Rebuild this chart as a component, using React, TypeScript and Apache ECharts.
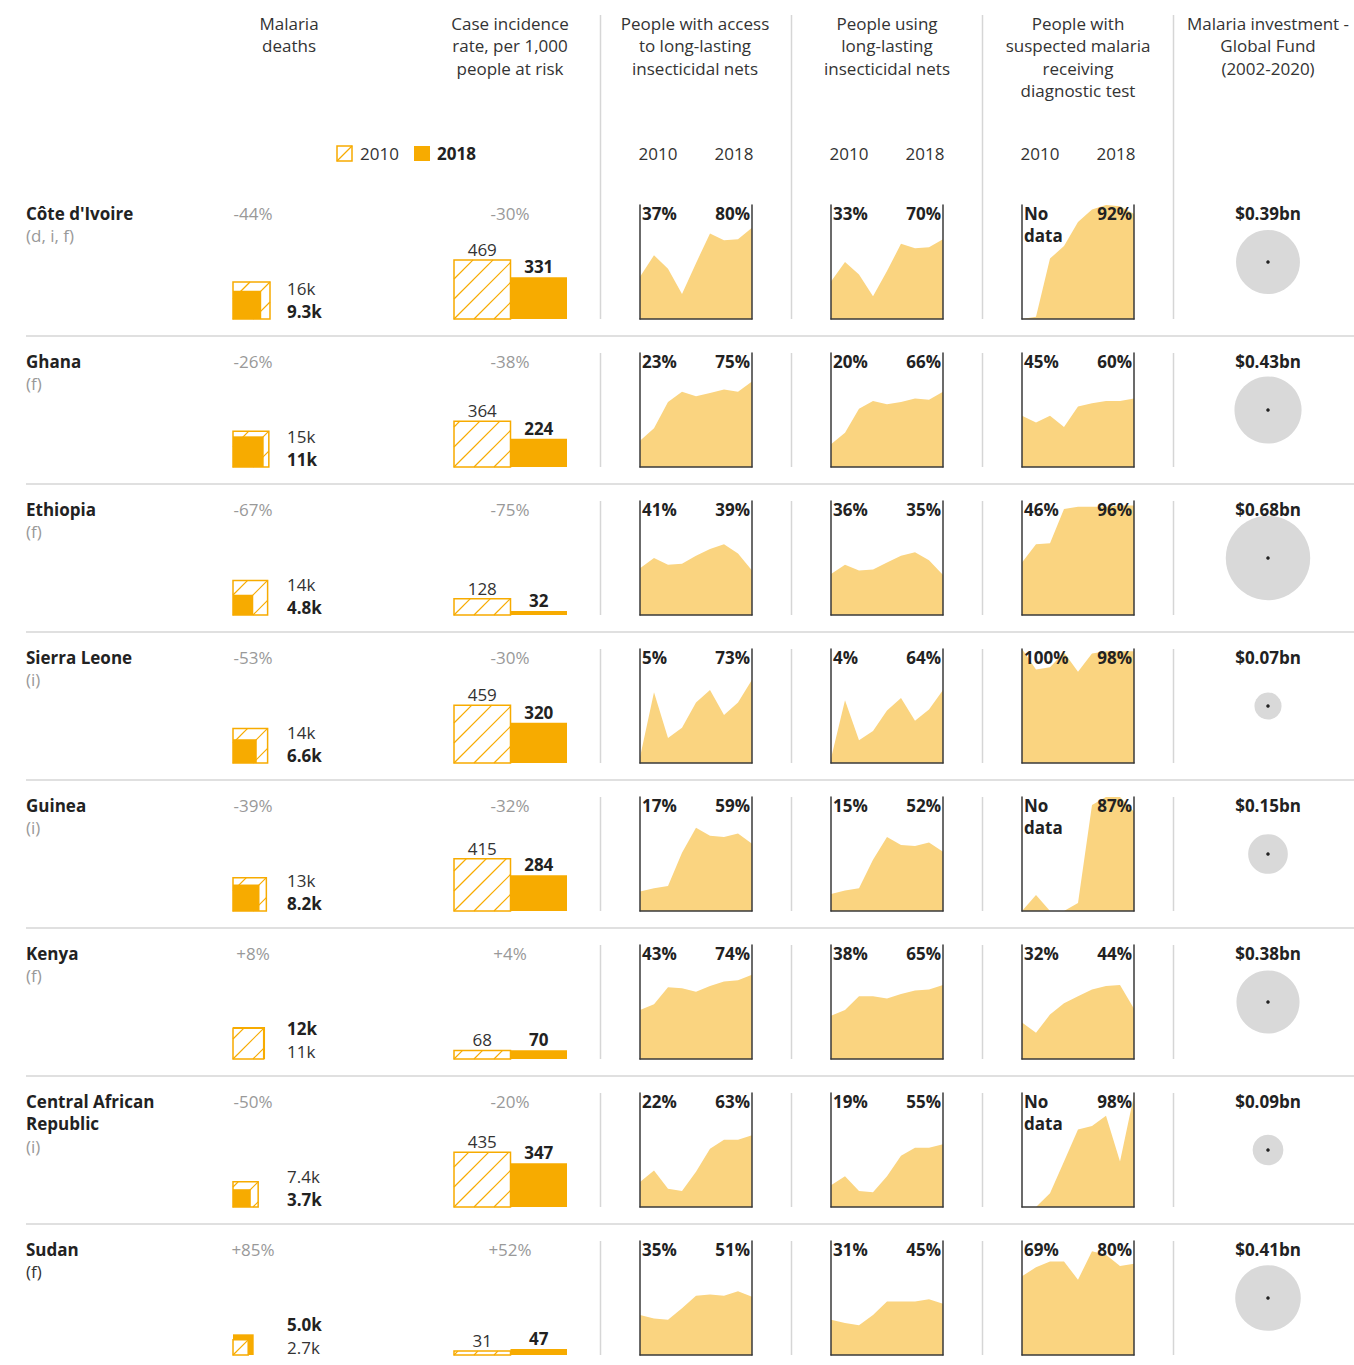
import React, { useEffect, useRef } from "react";
import * as echarts from "echarts";

// ---------------- DATA ----------------
const countries = ["Côte d'Ivoire", "Ghana", "Ethiopia", "Sierra Leone", "Guinea", "Kenya", "Central African\nRepublic", "Sudan"];
const notes = ["(d, i, f)", "(f)", "(f)", "(i)", "(i)", "(f)", "(i)", "(f)"];

const deaths2010 = [16, 15, 14, 14, 13, 11, 7.4, 2.7]; // thousands
const deaths2018 = [9.3, 11, 4.8, 6.6, 8.2, 12, 3.7, 5.0];
const deathsChange = ["-44%", "-26%", "-67%", "-53%", "-39%", "+8%", "-50%", "+85%"];

const incidence2010 = [469, 364, 128, 459, 415, 68, 435, 31];
const incidence2018 = [331, 224, 32, 320, 284, 70, 347, 47];
const incidenceChange = ["-30%", "-38%", "-75%", "-30%", "-32%", "+4%", "-20%", "+52%"];

const years = ["2010", "2011", "2012", "2013", "2014", "2015", "2016", "2017", "2018"];

const netAccess = [
  [37, 56, 44, 22, 49, 75, 69, 70, 80],
  [23, 34, 57, 66, 62, 65, 68, 66, 75],
  [41, 50, 44, 45, 52, 58, 62, 54, 39],
  [5, 62, 22, 31, 53, 64, 42, 53, 73],
  [17, 20, 22, 51, 73, 66, 65, 68, 59],
  [43, 48, 63, 62, 59, 64, 68, 69, 74],
  [22, 32, 16, 14, 31, 51, 59, 59, 63],
  [35, 32, 31, 41, 52, 53, 52, 56, 51],
];
const netUse = [
  [33, 50, 39, 20, 42, 66, 62, 63, 70],
  [20, 30, 51, 58, 55, 57, 60, 59, 66],
  [36, 44, 39, 40, 46, 52, 55, 48, 35],
  [4, 55, 20, 28, 46, 57, 37, 47, 64],
  [15, 18, 20, 45, 65, 58, 57, 60, 52],
  [38, 43, 55, 55, 53, 57, 60, 61, 65],
  [19, 27, 14, 13, 27, 45, 52, 52, 55],
  [31, 28, 26, 35, 47, 47, 47, 49, 45],
];
// null = no data
const diagnosticTest = [
  [null, 2, 53, 64, 85, 96, 100, 99, 92],
  [45, 39, 45, 35, 53, 56, 58, 58, 60],
  [46, 62, 63, 93, 95, 95, 95, 96, 96],
  [100, 82, 84, 97, 80, 96, 98, 98, 98],
  [null, 14, 0, 0, 7, 93, 100, 100, 87],
  [32, 23, 39, 49, 55, 61, 64, 65, 44],
  [null, 0, 12, 40, 68, 71, 80, 40, 98],
  [69, 77, 82, 82, 66, 91, 88, 78, 80],
];

const investment = [0.39, 0.43, 0.68, 0.07, 0.15, 0.38, 0.09, 0.41]; // $bn

const columnTitles = [
  "Malaria\ndeaths",
  "Case incidence\nrate, per 1,000\npeople at risk",
  "People with access\nto long-lasting\ninsecticidal nets",
  "People using\nlong-lasting\ninsecticidal nets",
  "People with\nsuspected malaria\nreceiving\ndiagnostic test",
  "Malaria investment -\nGlobal Fund\n(2002-2020)",
];

// ---------------- STYLE / LAYOUT ----------------
const FONT = '"Open Sans", sans-serif';
const ORANGE = "#f7ab00";
const AREA = "#fad480";
const BOX = "#3a3a3a";
const SEP = "#d6d6d6";
const DARK = "#222";
const GREY = "#999";
const REG = 17;
const BOLD = 17;

const PITCH = 148;
const BASE0 = 319;
const TEXT0 = 213;
const TITLE_X = [289, 510, 695, 887, 1078, 1268];
const AREA_LEFT = [640, 831, 1022];
const AREA_W = 112;
const AREA_H = 114;
const DEATH_PX_PER_UNIT = 9.25; // px per sqrt(thousand deaths)
const DEATH_BOX = 50;
const INC_PX_PER_UNIT = 0.126;
const INC_BOX = 80;
const CIRCLE_K = 51.2; // radius px per sqrt($bn)
const HATCH = 20;

function txt(x: number, y: number, text: string, o: any = {}) {
  const lh = o.lh || 22.5;
  return {
    type: "text",
    x,
    y: y - lh / 2,
    z: 100,
    silent: true,
    style: {
      text,
      fill: o.fill || "#333",
      fontSize: o.size || REG,
      fontWeight: o.weight || "normal",
      fontFamily: FONT,
      align: o.align || "left",
      verticalAlign: "top",
      lineHeight: lh,
    },
  };
}

function hatchedBox(x: number, y: number, w: number, h: number): any[] {
  const els: any[] = [
    { type: "rect", shape: { x, y, width: w, height: h }, style: { fill: "#fff", stroke: ORANGE, lineWidth: 1.5 } },
  ];
  const x0 = x, x1 = x + w, y0 = y, y1 = y + h;
  for (let k = -Math.ceil(h / HATCH); k <= Math.ceil(w / HATCH); k++) {
    const c = x0 + y1 + k * HATCH;
    const xs = Math.max(x0, c - y1);
    const xe = Math.min(x1, c - y0);
    if (xe - xs > 0.5) {
      els.push({ type: "line", shape: { x1: xs, y1: c - xs, x2: xe, y2: c - xe }, style: { stroke: ORANGE, lineWidth: 1.2 } });
    }
  }
  return els;
}

const fmtK = (v: number) => (v >= 10 ? Math.round(v) + "k" : v.toFixed(1) + "k");

function buildOption() {
  const grid: any[] = [];
  const xAxis: any[] = [];
  const yAxis: any[] = [];
  const series: any[] = [];
  const graphic: any[] = [];

  const addCart = (g: any, xa: any, ya: any) => {
    const gi = grid.length;
    grid.push(g);
    const xi = xAxis.length;
    xAxis.push({ ...xa, gridIndex: gi });
    const yi = yAxis.length;
    yAxis.push({ ...ya, gridIndex: gi });
    return { gi, xi, yi };
  };

  const bold = { weight: "bold", size: BOLD, fill: DARK };

  // ---- header ----
  columnTitles.forEach((t, k) => graphic.push(txt(TITLE_X[k], 23, t, { align: "center" })));
  // legend
  graphic.push({ type: "group", z: 100, silent: true, children: [
    { type: "rect", shape: { x: 337, y: 146, width: 15, height: 15 }, style: { fill: "#fff", stroke: ORANGE, lineWidth: 1.5 } },
    { type: "line", shape: { x1: 337, y1: 161, x2: 352, y2: 146 }, style: { stroke: ORANGE, lineWidth: 1.2 } },
    { type: "rect", shape: { x: 414, y: 146, width: 16, height: 15 }, style: { fill: ORANGE } },
  ] });
  graphic.push(txt(360, 153, "2010"));
  graphic.push(txt(437, 153, "2018", bold));
  AREA_LEFT.forEach((L) => {
    graphic.push(txt(L + 18, 153, years[0], { align: "center" }));
    graphic.push(txt(L + 94, 153, years[years.length - 1], { align: "center" }));
  });

  // ---- separators ----
  [600.5, 791.5, 982.5, 1173.5].forEach((x) => {
    for (let i = 0; i < countries.length; i++) {
      const B = BASE0 + PITCH * i;
      const top = i === 0 ? 15 : B - AREA_H;
      graphic.push({ type: "line", z: 1, silent: true, shape: { x1: x, y1: top, x2: x, y2: B }, style: { stroke: SEP, lineWidth: 1.5 } });
    }
  });
  for (let i = 0; i < countries.length - 1; i++) {
    const y = BASE0 + PITCH * i + 17;
    graphic.push({ type: "line", z: 1, silent: true, shape: { x1: 26, y1: y, x2: 1354, y2: y }, style: { stroke: SEP, lineWidth: 1.5 } });
  }

  for (let i = 0; i < countries.length; i++) {
    const B = BASE0 + PITCH * i;
    const T = TEXT0 + PITCH * i;

    // names
    const nameLines = countries[i].split("\n").length;
    graphic.push(txt(26, T, countries[i], bold));
    graphic.push(txt(26, T + 22.5 * nameLines, notes[i], { fill: i === countries.length - 1 ? "#333" : GREY }));

    // change labels
    graphic.push(txt(253, T, deathsChange[i], { align: "center", fill: GREY }));
    graphic.push(txt(510, T, incidenceChange[i], { align: "center", fill: GREY }));

    // deaths squares
    const dMax = DEATH_BOX / DEATH_PX_PER_UNIT;
    const d = addCart(
      { left: 233, top: B - DEATH_BOX, width: DEATH_BOX, height: DEATH_BOX },
      { type: "value", min: 0, max: dMax, show: false },
      { type: "value", min: 0, max: dMax, show: false }
    );
    series.push({
      type: "custom",
      xAxisIndex: d.xi,
      yAxisIndex: d.yi,
      silent: true,
      clip: false,
      z: 3,
      encode: { x: 0, y: 1 },
      data: [[0, 0, deaths2010[i], deaths2018[i]]],
      renderItem: (params: any, api: any) => {
        const o = api.coord([0, 0]);
        const v10 = api.value(2);
        const v18 = api.value(3);
        const s10 = api.size([Math.sqrt(v10), 0])[0];
        const s18 = api.size([Math.sqrt(v18), 0])[0];
        const hatched = hatchedBox(o[0], o[1] - s10, s10, s10);
        const filled = { type: "rect", shape: { x: o[0], y: o[1] - s18, width: s18, height: s18 }, style: { fill: ORANGE } };
        return { type: "group", children: v10 >= v18 ? [...hatched, filled] : [filled, ...hatched] };
      },
    });
    const d10 = deaths2010[i], d18 = deaths2018[i];
    const topIs18 = d18 > d10;
    graphic.push(txt(287, B - 31, fmtK(topIs18 ? d18 : d10), topIs18 ? bold : {}));
    graphic.push(txt(287, B - 8, fmtK(topIs18 ? d10 : d18), topIs18 ? {} : bold));

    // incidence bars
    const inc = addCart(
      { left: 454, top: B - INC_BOX, width: 113, height: INC_BOX },
      { type: "category", data: ["2010", "2018"], show: false },
      { type: "value", min: 0, max: INC_BOX / INC_PX_PER_UNIT, show: false }
    );
    series.push({
      type: "custom",
      xAxisIndex: inc.xi,
      yAxisIndex: inc.yi,
      silent: true,
      clip: false,
      z: 3,
      encode: { x: 0, y: 1 },
      data: [[0, incidence2010[i]], [1, incidence2018[i]]],
      renderItem: (params: any, api: any) => {
        const idx = api.value(0);
        const v = api.value(1);
        const top = api.coord([idx, v]);
        const base = api.coord([idx, 0]);
        const w = api.size([1, 0])[0];
        const x = top[0] - w / 2;
        const h = base[1] - top[1];
        const body = idx === 0
          ? hatchedBox(x, top[1], w, h)
          : [{ type: "rect", shape: { x, y: top[1], width: w, height: h }, style: { fill: ORANGE } }];
        const label = {
          type: "text",
          x: top[0],
          y: top[1] - 2,
          style: {
            text: String(v),
            align: "center",
            verticalAlign: "bottom",
            fontFamily: FONT,
            fontSize: idx === 0 ? REG : BOLD,
            fontWeight: idx === 0 ? "normal" : "bold",
            fill: idx === 0 ? "#333" : DARK,
          },
        };
        return { type: "group", children: [...body, label] };
      },
    });

    // area charts
    [netAccess, netUse, diagnosticTest].forEach((src, c) => {
      const L = AREA_LEFT[c];
      const vals = src[i];
      const gi = grid.length;
      grid.push({ left: L, top: B - AREA_H, width: AREA_W, height: AREA_H });
      const lineSt = { show: true, lineStyle: { color: BOX, width: 1.5 } };
      const xi = xAxis.length;
      xAxis.push({ gridIndex: gi, type: "category", data: years, boundaryGap: false, axisLine: lineSt, axisTick: { show: false }, axisLabel: { show: false }, splitLine: { show: false }, z: 5 });
      const yi = yAxis.length;
      yAxis.push({ gridIndex: gi, type: "value", min: 0, max: 100, axisLine: lineSt, axisTick: { show: false }, axisLabel: { show: false }, splitLine: { show: false }, z: 5 });
      yAxis.push({ gridIndex: gi, type: "value", position: "right", min: 0, max: 100, axisLine: lineSt, axisTick: { show: false }, axisLabel: { show: false }, splitLine: { show: false }, z: 5 });
      series.push({
        type: "line",
        xAxisIndex: xi,
        yAxisIndex: yi,
        data: vals.map((v) => (v == null ? 0 : v)),
        symbol: "none",
        silent: true,
        z: 1,
        lineStyle: { width: 0, opacity: 0 },
        areaStyle: { color: AREA, opacity: 1 },
      });
      const first = vals[0];
      const last = vals[vals.length - 1];
      graphic.push(txt(L + 2, T, first == null ? "No\ndata" : first + "%", bold));
      graphic.push(txt(L + AREA_W - 2, T, last + "%", { ...bold, align: "right" }));
    });

    // investment circle
    const cg = addCart(
      { left: 1218, top: B - AREA_H, width: 100, height: AREA_H },
      { type: "value", min: 0, max: 2, show: false },
      { type: "value", min: 0, max: 2, show: false }
    );
    series.push({
      type: "scatter",
      xAxisIndex: cg.xi,
      yAxisIndex: cg.yi,
      silent: true,
      data: [[1, 1, investment[i]]],
      symbolSize: (val: number[]) => 2 * CIRCLE_K * Math.sqrt(val[2]),
      itemStyle: { color: "#d9d9d9", opacity: 1 },
      z: 2,
    });
    series.push({
      type: "scatter",
      xAxisIndex: cg.xi,
      yAxisIndex: cg.yi,
      silent: true,
      data: [[1, 1]],
      symbolSize: 3.5,
      itemStyle: { color: "#222", opacity: 1 },
      z: 3,
    });
    graphic.push(txt(1268, T, "$" + investment[i].toFixed(2) + "bn", { ...bold, align: "center" }));
  }

  return {
    animation: false,
    backgroundColor: "#fff",
    textStyle: { fontFamily: FONT },
    grid,
    xAxis,
    yAxis,
    series,
    graphic: { elements: graphic },
  };
}

export default function App() {
  const ref = useRef<HTMLDivElement>(null);
  useEffect(() => {
    const chart = echarts.init(ref.current!, null, { renderer: "svg" });
    chart.setOption(buildOption() as any);
    return () => chart.dispose();
  }, []);
  return (
    <div
      ref={ref}
      style={{ position: "absolute", left: 0, top: 0, width: 1354, height: 1365, background: "#fff" }}
    />
  );
}
